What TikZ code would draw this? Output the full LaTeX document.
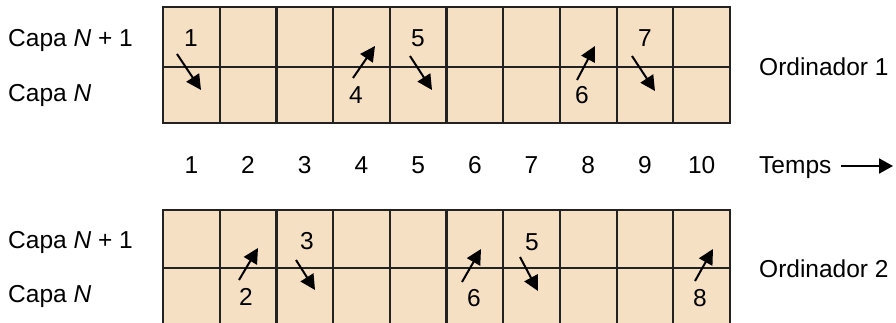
\documentclass[tikz,border=0pt]{standalone}
\usepackage{fontspec}
\setmainfont{Liberation Sans}
\usetikzlibrary{arrows.meta}
\definecolor{cellfill}{HTML}{F5E0C3}
\definecolor{gridline}{HTML}{222222}
\begin{document}
\begin{tikzpicture}[x=1pt,y=-1pt,
  gridbox/.style={fill=cellfill,draw=gridline,line width=2.2pt},
  gridrule/.style={draw=gridline,line width=2.2pt},
  lbl/.style={font=\fontsize{24.5}{28}\selectfont,inner sep=0pt},
  mv/.style={line width=2pt,-{Triangle[length=15pt,width=15pt]}},
  timearrow/.style={line width=2pt,-{Triangle[length=14pt,width=15pt]}}]
\useasboundingbox (0,0) rectangle (896,323);
% top grid
\draw[gridbox] (163,7) rectangle (730,123);
\draw[gridrule] (163,67) -- (730,67);
\foreach \i in {1,...,9} \draw[gridrule] (163+56.7*\i,7) -- ++(0,116);
% bottom grid
\draw[gridbox] (163,210) rectangle (730,325);
\draw[gridrule] (163,268) -- (730,268);
\foreach \i in {1,...,9} \draw[gridrule] (163+56.7*\i,210) -- ++(0,115);
% side labels
\node[lbl,anchor=base west] (t1) at (8,47) {Capa \textit{N} + 1};
\node[lbl,anchor=base west] (t0) at (8,102) {Capa \textit{N}};
\node[lbl,anchor=base west] (b1) at (8,248) {Capa \textit{N} + 1};
\node[lbl,anchor=base west] (b0) at (8,302) {Capa \textit{N}};
\node[lbl,anchor=base west] (o1) at (759,75.5) {Ordinador 1};
\node[lbl,anchor=base west] (o2) at (759,277) {Ordinador 2};
% time axis
\foreach \i in {1,...,10} \node[lbl] (tm\i) at (191.35+56.7*\i-56.7,165) {\i};
\node[lbl,anchor=base west] (temps) at (759,173.5) {Temps};
\coordinate (tstart) at (841,166);
\coordinate (tend) at (893,166);
\draw[timearrow] (tstart) -- (tend);
% top arrows
\node[lbl] (n1) at (191,38) {1};
\coordinate (a1s) at (177,54); \coordinate (a1e) at (201,90);
\draw[mv] (a1s) -- (a1e);
\node[lbl] (n4) at (356,95) {4};
\coordinate (a4s) at (353,78); \coordinate (a4e) at (375,46);
\draw[mv] (a4s) -- (a4e);
\node[lbl] (n5) at (418,38) {5};
\coordinate (a5s) at (410,56); \coordinate (a5e) at (432,90);
\draw[mv] (a5s) -- (a5e);
\node[lbl] (n6) at (582,95) {6};
\coordinate (a6s) at (577,80); \coordinate (a6e) at (595,46);
\draw[mv] (a6s) -- (a6e);
\node[lbl] (n7) at (645,38) {7};
\coordinate (a7s) at (632,56); \coordinate (a7e) at (655,91);
\draw[mv] (a7s) -- (a7e);
% bottom arrows
\node[lbl] (m2) at (246,297) {2};
\coordinate (b2s) at (239,280); \coordinate (b2e) at (258,248);
\draw[mv] (b2s) -- (b2e);
\node[lbl] (m3) at (307,241) {3};
\coordinate (b3s) at (296,260); \coordinate (b3e) at (315,290);
\draw[mv] (b3s) -- (b3e);
\node[lbl] (m6) at (474,298) {6};
\coordinate (b6s) at (462,282); \coordinate (b6e) at (481,249);
\draw[mv] (b6s) -- (b6e);
\node[lbl] (m5) at (532,242) {5};
\coordinate (b5s) at (520,257); \coordinate (b5e) at (538,291);
\draw[mv] (b5s) -- (b5e);
\node[lbl] (m8) at (700,298) {8};
\coordinate (b8s) at (695,281); \coordinate (b8e) at (713,249);
\draw[mv] (b8s) -- (b8e);
\end{tikzpicture}
\end{document}
